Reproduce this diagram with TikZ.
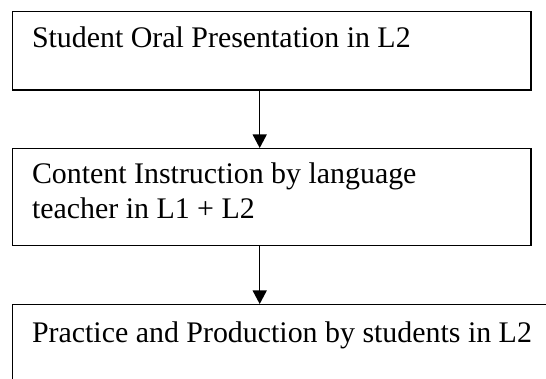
\documentclass[tikz,border=0pt]{standalone}
\usepackage{fontspec}
\setmainfont{Liberation Serif}
\usetikzlibrary{arrows.meta}
\begin{document}
\begin{tikzpicture}[x=1pt,y=-1pt,
  box/.style={draw,line width=1.3pt,inner sep=0pt,anchor=north west},
  lbl/.style={anchor=base west,inner sep=0pt,font=\fontsize{29.9}{35}\selectfont},
  flow/.style={line width=1.2pt,-{Triangle[length=13.5pt,width=14pt]}}]
\clip (0,0) rectangle (546,379);
\node[box, minimum width=518.5pt, minimum height=78.6pt] (b1) at (11.7,10.7) {};
\node[box, minimum width=518.5pt, minimum height=97pt] (b2) at (11.7,148) {};
\node[box, minimum width=600pt, minimum height=120pt] (b3) at (11.7,304) {};
\node[lbl] (t1) at (31.8,47.3) {Student Oral Presentation in L2};
\node[lbl] (t2a) at (31.8,183.5) {Content Instruction by language};
\node[lbl] (t2b) at (31.8,218.3) {teacher in L1 + L2};
\node[lbl] (t3) at (31.8,342) {Practice and Production by students in L2};
\draw[flow] ([xshift=248pt]b1.south west) -- ([xshift=248pt]b2.north west);
\draw[flow] ([xshift=248pt]b2.south west) -- ([xshift=248pt]b3.north west);
\end{tikzpicture}
\end{document}
